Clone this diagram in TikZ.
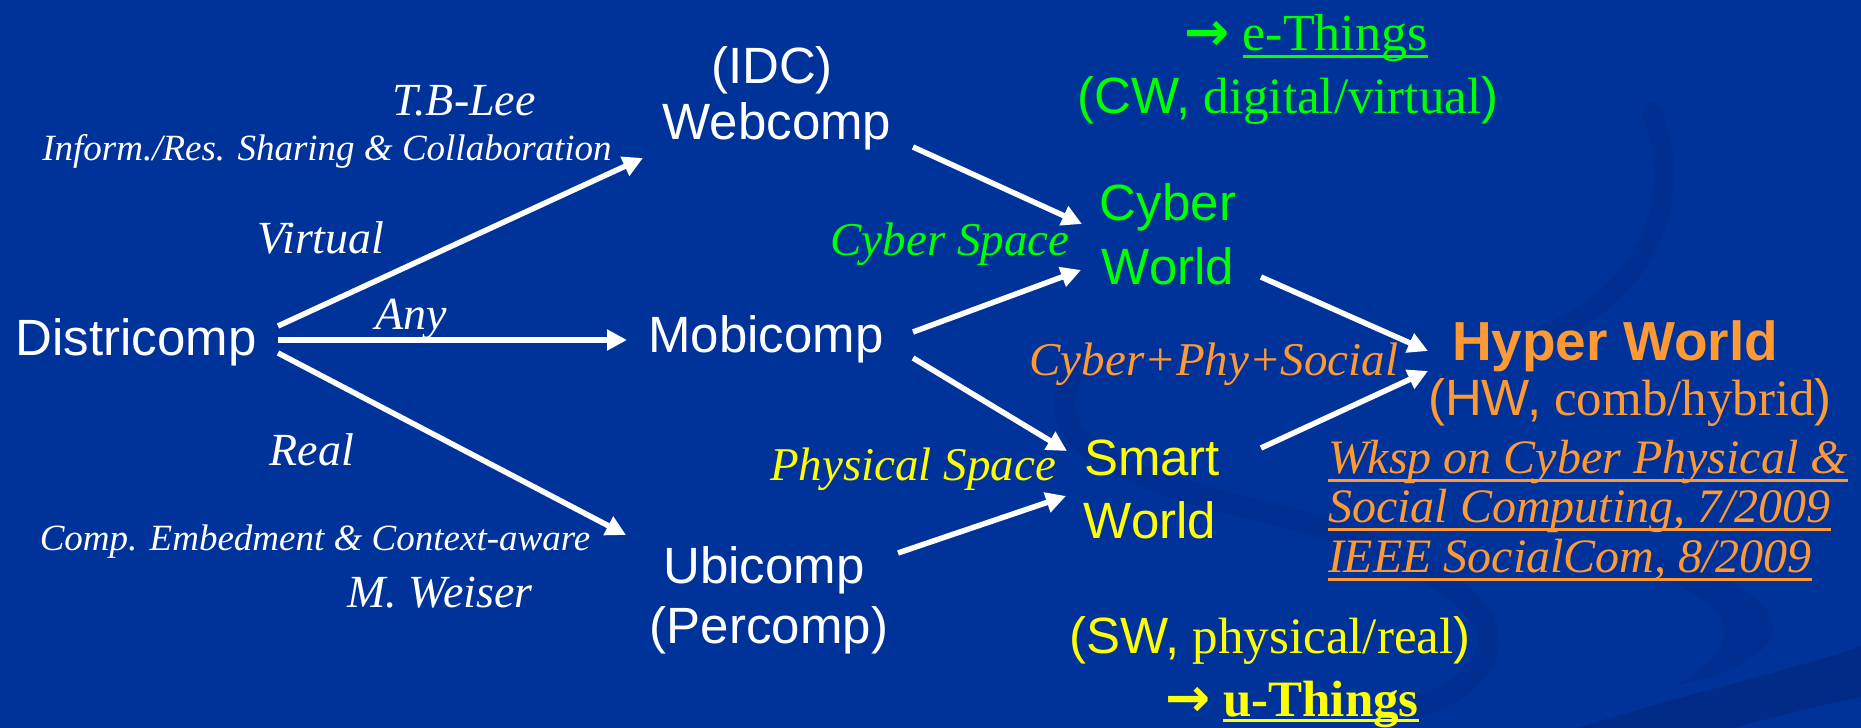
\documentclass[tikz,border=0pt]{standalone}
\usepackage{fontspec}
\setmainfont{Liberation Serif}
\setsansfont{Liberation Sans}
\newfontfamily\arrowfont{DejaVu Sans}
\usetikzlibrary{arrows.meta}

\definecolor{bgblue}{RGB}{0,51,153}
\definecolor{bgdark}{RGB}{0,44,136}
\definecolor{bgsoft}{RGB}{0,47,145}
\definecolor{cgreen}{RGB}{0,255,0}
\definecolor{cyellow}{RGB}{255,255,0}
\definecolor{corange}{RGB}{255,153,51}

% font size in pt, tight leading
\newcommand\fs[1]{\fontsize{#1}{#1}\selectfont}
% thick underline: optional depth below baseline
\newcommand\thickul[2][8.5pt]{\leavevmode\setbox0=\hbox{#2}\rlap{\rule[-#1]{\wd0}{3pt}}\box0}
% pointer arrow set before e-Things / u-Things
\newcommand\pointer{{\arrowfont\bfseries\fs{54}→}}

\tikzset{
  lbl/.style={inner sep=0pt, outer sep=0pt, anchor=base},
  sanslbl/.style={lbl, font=\sffamily\fs{51}, text=white},
  itl/.style={lbl, font=\itshape\fs{46}, text=white},
  flow/.style={line width=5.5pt, white, -{Triangle[length=20pt,width=20pt]}},
}

\begin{document}
\begin{tikzpicture}[x=1pt, y=-1pt]
% slide background
\fill[bgblue] (0,0) rectangle (1861,728);
\useasboundingbox (0,0) rectangle (1861,728);

% faint ribbons of the slide template
\draw[bgsoft, line width=20pt, line cap=round]
  (1652,112) .. controls (1685,200) and (1650,290) .. (1545,335);
\draw[bgsoft, line width=22pt, line cap=round]
  (1075,372) .. controls (1040,425) and (1085,470) .. (1250,508)
  .. controls (1420,548) and (1515,610) .. (1482,662)
  .. controls (1465,690) and (1440,700) .. (1410,708);
\fill[bgsoft] (1600,549) .. controls (1720,560) and (1805,610) .. (1762,650)
  .. controls (1740,670) and (1705,680) .. (1673,686)
  .. controls (1725,660) and (1740,628) .. (1705,602)
  .. controls (1680,582) and (1640,566) .. (1600,556) -- cycle;
\fill[bgdark] (1577,728) .. controls (1700,690) and (1800,668) .. (1861,646)
  -- (1861,697) .. controls (1810,707) and (1770,718) .. (1733,728) -- cycle;

% computing paradigms
\node[sanslbl] (distr)   at (136,355) {Districomp};
\node[sanslbl] (idc)     at (772,83)  {(IDC)};
\node[sanslbl] (web)     at (777,139) {Webcomp};
\node[sanslbl] (mobi)    at (766,352) {Mobicomp};
\node[sanslbl] (ubi)     at (764,583) {Ubicomp};
\node[sanslbl] (percomp) at (769,643) {(Percomp)};

% edge annotations on the left
\node[itl] (tblee)   at (464,115) {T.B-Lee};
\node[itl, font=\itshape\fs{37}] (inform) at (327,160) {Inform./Res. Sharing \& Collaboration};
\node[itl] (virtual) at (321,253) {Virtual};
\node[itl] (any)     at (411,329) {Any};
\node[itl] (real)    at (312,465) {Real};
\node[itl, font=\itshape\fs{37}] (compemb) at (315,550) {Comp. Embedment \& Context-aware};
\node[itl] (weiser)  at (440,607) {M. Weiser};

% cyber world
\node[lbl, text=cgreen, font=\rmfamily\fs{52}] (ething) at (1306,50)
  {\pointer\ \thickul[8pt]{e-Things}};
\node[lbl, text=cgreen, font=\rmfamily\fs{51}] (cwline) at (1288,113)
  {{\sffamily(CW,} digital/virtual{\sffamily)}};
\node[sanslbl, text=cgreen] (cyber)  at (1168,220) {Cyber};
\node[sanslbl, text=cgreen] (cworld) at (1168,284) {World};
\node[itl, text=cgreen, font=\itshape\fs{47}] (cyberspace) at (950,255) {Cyber Space};

% smart world
\node[itl, text=cyellow, font=\itshape\fs{47}] (physspace) at (913,480) {Physical Space};
\node[sanslbl, text=cyellow] (smart)  at (1152,475) {Smart};
\node[sanslbl, text=cyellow] (sworld) at (1150,538) {World};
\node[lbl, text=cyellow, font=\rmfamily\fs{51}] (swline) at (1270,653)
  {{\sffamily(SW,} physical/real{\sffamily)}};
\node[lbl, text=cyellow, font=\rmfamily\fs{51}] (uthings) at (1292,716)
  {\pointer\ \thickul[5.5pt]{\bfseries u-Things}};

% hyper world
\node[itl, text=corange, font=\itshape\fs{47}] (cps) at (1214,375) {Cyber+Phy+Social};
\node[lbl, text=corange, font=\sffamily\bfseries\fs{55}] (hyper) at (1615,360) {Hyper World};
\node[lbl, text=corange, font=\rmfamily\fs{51}] (hwline) at (1630,415)
  {{\sffamily(HW,} comb/hybrid{\sffamily)}};
\node[lbl, anchor=base west, text=corange, font=\itshape\fs{48}] (wksp1) at (1328,473)
  {\thickul{Wksp on Cyber Physical \&}};
\node[lbl, anchor=base west, text=corange, font=\itshape\fs{48}] (wksp2) at (1328,522)
  {\thickul{Social Computing, 7/2009}};
\node[lbl, anchor=base west, text=corange, font=\itshape\fs{48}] (wksp3) at (1328,572)
  {\thickul{IEEE SocialCom, 8/2009}};

% evolution arrows
\draw[flow] ([shift={(142,-29)}]distr.base) -- ([shift={(-134,19)}]web.base);
\draw[flow] ([shift={(142,-15)}]distr.base) -- ([shift={(-139,-12)}]mobi.base);
\draw[flow] ([shift={(142,-2)}]distr.base)  -- ([shift={(-138,-48)}]ubi.base);
\draw[flow] ([shift={(136,8)}]web.base)     -- ([shift={(-86,4)}]cyber.base);
\draw[flow] ([shift={(147,-20)}]mobi.base)  -- ([shift={(-87,-14)}]cworld.base);
\draw[flow] ([shift={(147,6)}]mobi.base)    -- ([shift={(-85,-24)}]smart.base);
\draw[flow] ([shift={(134,-30)}]ubi.base)   -- ([shift={(-84,-42)}]sworld.base);
\draw[flow] ([shift={(93,-7)}]cworld.base)  -- ([shift={(-187,-9)}]hyper.base);
\draw[flow] ([shift={(109,-27)}]smart.base) -- ([shift={(-187,11)}]hyper.base);
\end{tikzpicture}
\end{document}
